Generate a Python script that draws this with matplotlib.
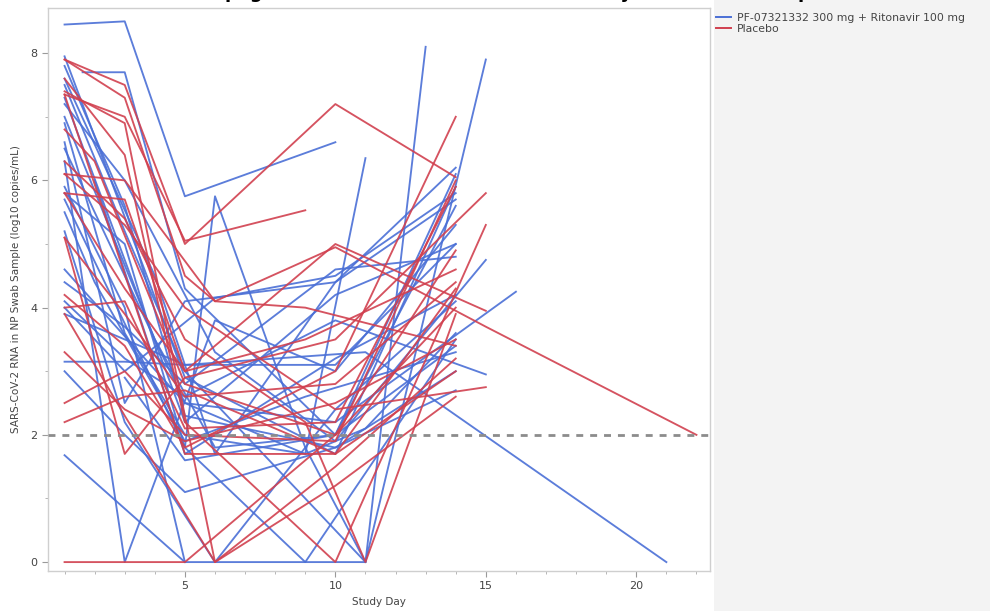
import numpy as np
import matplotlib
matplotlib.use("Agg")
import matplotlib.pyplot as plt
from matplotlib.patches import Rectangle

# Viral load (log10 copies/mL) per subject: visit days and values
active_days = [
    [1, 3, 5, 10],
    [1.6, 3, 5, 10, 14],
    [1, 5, 10, 14],
    [1, 3, 5, 11, 13],
    [1, 3, 6, 10, 15],
    [1, 3, 5, 11, 21],
    [1, 3, 5, 10, 16],
    [1, 5, 6, 9, 11],
    [1, 5],
    [1, 3, 6, 10, 14],
    [1, 3, 5, 11, 15],
    [1, 3, 5, 9, 14],
    [1, 3, 5, 10, 14],
    [1, 3, 5, 10, 15],
    [1, 4, 6, 10, 14],
    [1, 3, 5, 9, 11, 14],
    [1, 3, 6, 10, 14],
    [1, 3, 5, 10, 14],
    [1, 3, 6, 10, 14],
    [1, 5, 10, 14],
    [2, 5, 10, 14],
    [1, 3, 5, 10, 14],
    [1, 5, 9, 11],
    [1, 4, 6, 10, 14],
    [3, 5, 10, 14],
    [1, 3, 5, 10, 14],
    [1, 3, 5, 10, 14],
    [1, 2, 5, 9, 14],
]
active_vals = [
    [8.45, 8.5, 5.75, 6.6],
    [7.7, 7.7, 4.3, 2.0, 5.6],
    [7.95, 2.9, 1.7, 5.9],
    [7.5, 5.2, 3.0, 0.0, 8.1],
    [7.2, 6.0, 3.3, 1.9, 4.75],
    [3.9, 3.5, 3.1, 3.3, 0.0],
    [6.5, 4.5, 2.5, 2.2, 4.25],
    [5.7, 1.8, 5.75, 1.8, 0.0],
    [1.68, 0.0],
    [6.3, 0.0, 3.8, 3.0, 5.3],
    [5.9, 4.0, 0.0, 0.0, 7.9],
    [5.8, 5.0, 1.8, 0.0, 3.5],
    [3.15, 3.15, 3.1, 3.1, 5.0],
    [4.1, 3.2, 2.6, 3.8, 2.95],
    [7.6, 4.5, 1.7, 4.4, 6.2],
    [6.9, 3.6, 2.0, 1.7, 2.1, 3.6],
    [5.2, 2.2, 0.0, 2.4, 4.1],
    [3.0, 2.0, 1.1, 1.8, 3.0],
    [4.0, 3.0, 4.15, 4.5, 5.8],
    [7.3, 2.2, 4.2, 5.0],
    [6.0, 1.7, 3.2, 4.2],
    [6.6, 2.5, 4.1, 4.4, 5.7],
    [4.6, 2.5, 1.7, 6.35],
    [7.0, 3.5, 1.8, 2.0, 3.4],
    [2.9, 1.6, 2.0, 6.1],
    [4.4, 3.7, 2.8, 4.6, 4.8],
    [7.8, 5.6, 2.3, 1.8, 2.7],
    [5.5, 4.4, 1.9, 2.6, 3.3],
]

placebo_days = [
    [1, 3, 5, 10, 14],
    [1, 3, 5, 9],
    [1, 3, 6, 10, 15, 22],
    [1, 3, 5, 10, 14],
    [1, 5, 10, 14],
    [1, 3, 5, 10, 14],
    [1, 3, 5, 10, 15],
    [1, 3, 5, 10, 15],
    [1, 3, 5, 9, 11, 14],
    [1, 3, 5, 10, 14],
    [1, 3, 6, 10, 14],
    [1, 3, 5, 10, 15],
    [1, 3, 5, 10, 14],
    [1, 3, 5, 9, 14],
    [1, 3, 5, 10, 14],
    [1, 3, 5, 6, 9, 14],
    [1, 3, 5, 10, 15],
    [1, 3, 6, 10, 14],
    [1, 3, 5, 10, 14],
    [1, 3, 5, 10, 14],
    [1, 2, 5, 10, 14],
]
placebo_vals = [
    [7.9, 7.5, 5.0, 7.2, 6.05],
    [7.35, 7.0, 5.05, 5.53],
    [6.1, 6.0, 4.1, 4.95, 3.7, 2.0],
    [0.0, 0.0, 0.0, 2.0, 4.0],
    [7.35, 1.7, 1.7, 4.3],
    [2.2, 2.6, 2.7, 1.7, 3.0],
    [5.1, 1.7, 2.9, 3.5, 5.8],
    [7.6, 6.4, 2.2, 0.0, 5.3],
    [6.3, 5.4, 3.5, 2.2, 0.0, 3.9],
    [4.2, 3.4, 1.8, 3.0, 7.0],
    [3.9, 2.3, 0.0, 1.5, 3.2],
    [6.1, 5.3, 4.0, 2.4, 2.75],
    [4.0, 4.1, 2.1, 2.2, 5.9],
    [5.8, 4.3, 3.0, 3.5, 4.6],
    [2.5, 3.0, 2.0, 1.9, 6.0],
    [7.9, 7.3, 4.5, 4.1, 4.0, 3.4],
    [5.8, 5.7, 3.0, 5.0, 3.95],
    [7.4, 6.9, 0.0, 1.2, 2.6],
    [5.1, 3.9, 2.6, 2.8, 4.4],
    [3.3, 2.4, 1.9, 2.5, 3.5],
    [6.8, 6.3, 2.8, 2.0, 4.9],
]

group_labels = ["PF-07321332 300 mg + Ritonavir 100 mg", "Placebo"]
lloq = 2.0

blue = "#4a6fd6"
red = "#d1404f"

fig = plt.figure(figsize=(9.9, 6.11), dpi=100)
fig.patches.append(Rectangle((714 / 990, 0), 1 - 714 / 990, 1, transform=fig.transFigure,
                             facecolor="#f3f3f3", edgecolor="none", zorder=-1))
ax = fig.add_axes([48 / 990, 1 - 571 / 611, (710 - 48) / 990, (571 - 8) / 611])

for d, v in zip(active_days, active_vals):
    ax.plot(d, v, color=blue, lw=1.35, alpha=0.9)
for d, v in zip(placebo_days, placebo_vals):
    ax.plot(d, v, color=red, lw=1.35, alpha=0.9)

ax.axhline(lloq, color="#8c8c8c", lw=2.0, ls=(0, (2.5, 2.5)), zorder=5)

ax.set_xlim(0.45, 22.45)
ax.set_ylim(-0.14, 8.71)
ax.set_xticks([5, 10, 15, 20])
ax.set_xticks(np.arange(1, 23), minor=True)
ax.set_yticks([0, 2, 4, 6, 8])
ax.set_yticks(np.arange(1, 9, 2), minor=True)
ax.tick_params(axis="both", which="major", labelsize=8, colors="#9a9a9a",
               labelcolor="#444444", length=4, width=0.8)
ax.tick_params(axis="both", which="minor", colors="#b5b5b5", length=2.5, width=0.7)
for s in ax.spines.values():
    s.set_color("#cfcfcf")
    s.set_linewidth(1.0)

ax.set_xlabel("Study Day", fontsize=7.5, color="#444444", labelpad=4)
ax.set_ylabel("SARS-CoV-2 RNA in NP Swab Sample (log10 copies/mL)", fontsize=7.5,
              color="#444444", labelpad=7)

handles = [plt.Line2D([], [], color=blue, lw=1.4), plt.Line2D([], [], color=red, lw=1.4)]
fig.legend(handles, group_labels, loc="upper left", bbox_to_anchor=(716 / 990, 1 - 13 / 611),
           frameon=False, fontsize=7.8, handlelength=1.4, handletextpad=0.5,
           labelspacing=0.1, borderaxespad=0, borderpad=0, labelcolor="#444444")

# title sits mostly above the top edge of the canvas
fig.text(511 / 990, 1 + 2 / 611, "Spaghetti Plot of Viral Load Over Time by Treatment Group",
         ha="center", va="baseline", fontsize=13, fontweight="bold", color="black")

fig.savefig("out.png", dpi=100, facecolor="white")
